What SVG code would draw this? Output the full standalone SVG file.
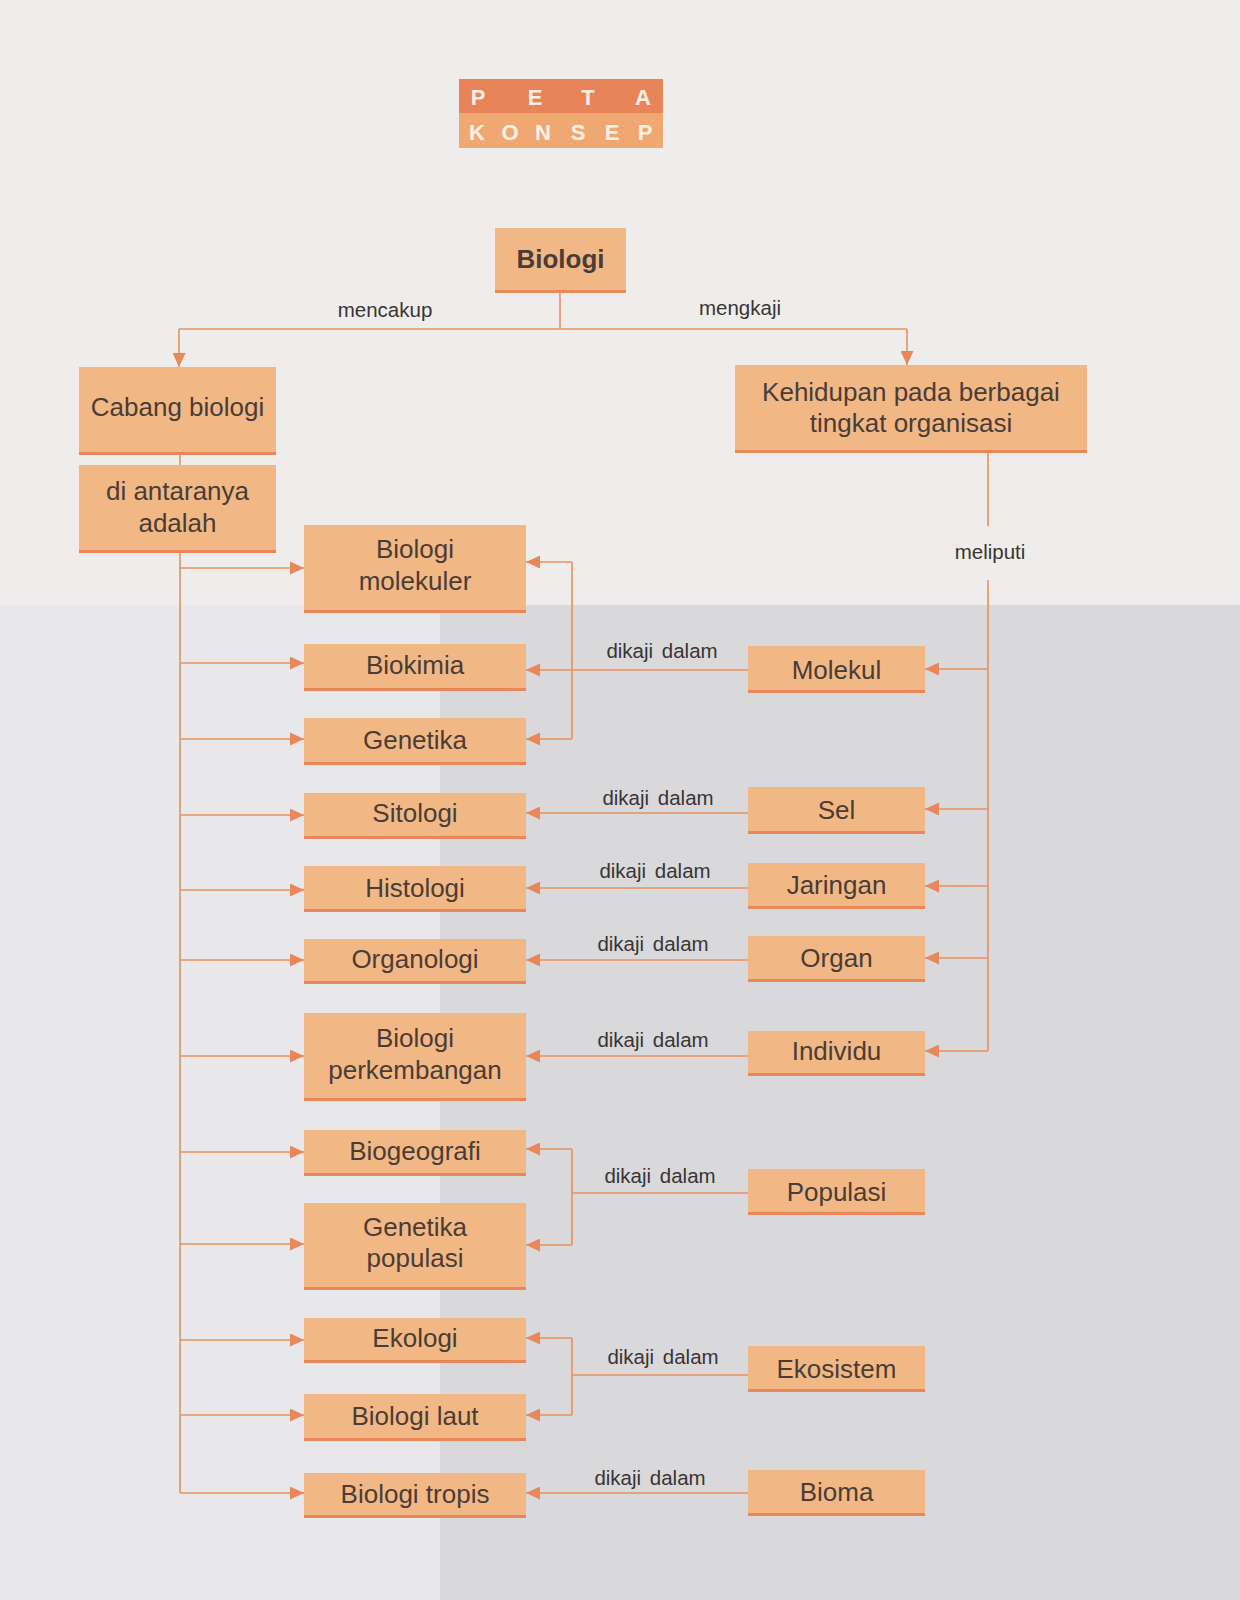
<svg xmlns="http://www.w3.org/2000/svg" width="1240" height="1600" viewBox="0 0 1240 1600">
<defs>
<style>
.box{fill:#f1b886}
.edge{fill:#e8875a}
.t{font-family:"Liberation Sans",Arial,sans-serif;font-size:26px;fill:#4a3c36;text-anchor:middle}
.b{font-weight:bold}
.lbl{font-family:"Liberation Sans",Arial,sans-serif;font-size:20.5px;fill:#3a3434;text-anchor:middle;word-spacing:3px}
.c{fill:none;stroke:#e8915e;stroke-width:1.6}
.pk{font-family:"Liberation Sans",Arial,sans-serif;font-size:22px;font-weight:bold;fill:#fdf0e6;text-anchor:middle}
</style>
<marker id="ah" viewBox="0 0 14 13" refX="14" refY="6.5" markerWidth="14" markerHeight="13" markerUnits="userSpaceOnUse" orient="auto">
<path d="M0,0 L14,6.5 L0,13 z" fill="#e8875a"/>
</marker>
</defs>
<rect x="0" y="0" width="1240" height="1600" fill="#efedeb"/>
<rect x="0" y="605" width="440" height="995" fill="#e8e7e9"/>
<rect x="440" y="605" width="800" height="995" fill="#d9d9dc"/>

<g id="peta-konsep">
<rect x="459" y="79" width="204" height="34" fill="#e8845a"/>
<rect x="459" y="113" width="204" height="35" fill="#f0a872"/>
<text class="pk" x="478" y="105">P</text><text class="pk" x="535" y="105">E</text><text class="pk" x="588" y="105">T</text><text class="pk" x="643" y="105">A</text>
<text class="pk" x="477" y="140">K</text><text class="pk" x="510" y="140">O</text><text class="pk" x="543" y="140">N</text><text class="pk" x="578" y="140">S</text><text class="pk" x="612" y="140">E</text><text class="pk" x="645" y="140">P</text>
</g>

<g id="connectors">
<path class="c" d="M560 293 V329 M179 329 H907"/>
<path class="c" d="M179 329 V367" marker-end="url(#ah)"/>
<path class="c" d="M907 329 V365" marker-end="url(#ah)"/>
<path class="c" d="M180 455 V465 M180 553 V1493"/>
<path class="c" d="M180 568 H304" marker-end="url(#ah)"/>
<path class="c" d="M180 663 H304" marker-end="url(#ah)"/>
<path class="c" d="M180 739 H304" marker-end="url(#ah)"/>
<path class="c" d="M180 815 H304" marker-end="url(#ah)"/>
<path class="c" d="M180 890 H304" marker-end="url(#ah)"/>
<path class="c" d="M180 960 H304" marker-end="url(#ah)"/>
<path class="c" d="M180 1056 H304" marker-end="url(#ah)"/>
<path class="c" d="M180 1152 H304" marker-end="url(#ah)"/>
<path class="c" d="M180 1244 H304" marker-end="url(#ah)"/>
<path class="c" d="M180 1340 H304" marker-end="url(#ah)"/>
<path class="c" d="M180 1415 H304" marker-end="url(#ah)"/>
<path class="c" d="M180 1493 H304" marker-end="url(#ah)"/>
<path class="c" d="M988 453 V526 M988 580 V1051"/>
<path class="c" d="M988 669 H925" marker-end="url(#ah)"/>
<path class="c" d="M988 809 H925" marker-end="url(#ah)"/>
<path class="c" d="M988 886 H925" marker-end="url(#ah)"/>
<path class="c" d="M988 958 H925" marker-end="url(#ah)"/>
<path class="c" d="M988 1051 H925" marker-end="url(#ah)"/>
<path class="c" d="M748 670 H526" marker-end="url(#ah)"/>
<path class="c" d="M572 562 V739"/>
<path class="c" d="M572 562 H526" marker-end="url(#ah)"/>
<path class="c" d="M572 739 H526" marker-end="url(#ah)"/>
<path class="c" d="M748 813 H526" marker-end="url(#ah)"/>
<path class="c" d="M748 888 H526" marker-end="url(#ah)"/>
<path class="c" d="M748 960 H526" marker-end="url(#ah)"/>
<path class="c" d="M748 1056 H526" marker-end="url(#ah)"/>
<path class="c" d="M748 1193 H572 M572 1149 V1245"/>
<path class="c" d="M572 1149 H526" marker-end="url(#ah)"/>
<path class="c" d="M572 1245 H526" marker-end="url(#ah)"/>
<path class="c" d="M748 1375 H572 M572 1338 V1415"/>
<path class="c" d="M572 1338 H526" marker-end="url(#ah)"/>
<path class="c" d="M572 1415 H526" marker-end="url(#ah)"/>
<path class="c" d="M748 1493 H526" marker-end="url(#ah)"/>
<text class="lbl" x="385" y="317">mencakup</text>
<text class="lbl" x="740" y="315">mengkaji</text>
<text class="lbl" x="990" y="559">meliputi</text>
<text class="lbl" x="662" y="658">dikaji dalam</text>
<text class="lbl" x="658" y="805">dikaji dalam</text>
<text class="lbl" x="655" y="878">dikaji dalam</text>
<text class="lbl" x="653" y="951">dikaji dalam</text>
<text class="lbl" x="653" y="1047">dikaji dalam</text>
<text class="lbl" x="660" y="1183">dikaji dalam</text>
<text class="lbl" x="663" y="1364">dikaji dalam</text>
<text class="lbl" x="650" y="1485">dikaji dalam</text>
</g>

<g id="biologi"><rect class="box" x="495" y="228" width="131" height="65"/><rect class="edge" x="495" y="290" width="131" height="3"/><text class="t b" x="560.5" y="268">Biologi</text></g>
<g id="cabang-biologi"><rect class="box" x="79" y="367" width="197" height="88"/><rect class="edge" x="79" y="452" width="197" height="3"/><text class="t" x="177.5" y="416">Cabang biologi</text></g>
<g id="di-antaranya"><rect class="box" x="79" y="465" width="197" height="88"/><rect class="edge" x="79" y="550" width="197" height="3"/><text class="t" x="177.5" y="500">di antaranya</text><text class="t" x="177.5" y="532">adalah</text></g>
<g id="kehidupan"><rect class="box" x="735" y="365" width="352" height="88"/><rect class="edge" x="735" y="450" width="352" height="3"/><text class="t" x="911" y="401">Kehidupan pada berbagai</text><text class="t" x="911" y="432">tingkat organisasi</text></g>

<g id="biologi-molekuler"><rect class="box" x="304" y="525" width="222" height="88"/><rect class="edge" x="304" y="610" width="222" height="3"/><text class="t" x="415" y="558">Biologi</text><text class="t" x="415" y="590">molekuler</text></g>
<g id="biokimia"><rect class="box" x="304" y="644" width="222" height="47"/><rect class="edge" x="304" y="688" width="222" height="3"/><text class="t" x="415" y="674">Biokimia</text></g>
<g id="genetika"><rect class="box" x="304" y="718" width="222" height="47"/><rect class="edge" x="304" y="762" width="222" height="3"/><text class="t" x="415" y="749">Genetika</text></g>
<g id="sitologi"><rect class="box" x="304" y="793" width="222" height="46"/><rect class="edge" x="304" y="836" width="222" height="3"/><text class="t" x="415" y="822">Sitologi</text></g>
<g id="histologi"><rect class="box" x="304" y="866" width="222" height="46"/><rect class="edge" x="304" y="909" width="222" height="3"/><text class="t" x="415" y="897">Histologi</text></g>
<g id="organologi"><rect class="box" x="304" y="939" width="222" height="45"/><rect class="edge" x="304" y="981" width="222" height="3"/><text class="t" x="415" y="968">Organologi</text></g>
<g id="biologi-perkembangan"><rect class="box" x="304" y="1013" width="222" height="88"/><rect class="edge" x="304" y="1098" width="222" height="3"/><text class="t" x="415" y="1047">Biologi</text><text class="t" x="415" y="1079">perkembangan</text></g>
<g id="biogeografi"><rect class="box" x="304" y="1130" width="222" height="46"/><rect class="edge" x="304" y="1173" width="222" height="3"/><text class="t" x="415" y="1160">Biogeografi</text></g>
<g id="genetika-populasi"><rect class="box" x="304" y="1203" width="222" height="87"/><rect class="edge" x="304" y="1287" width="222" height="3"/><text class="t" x="415" y="1236">Genetika</text><text class="t" x="415" y="1267">populasi</text></g>
<g id="ekologi"><rect class="box" x="304" y="1318" width="222" height="45"/><rect class="edge" x="304" y="1360" width="222" height="3"/><text class="t" x="415" y="1347">Ekologi</text></g>
<g id="biologi-laut"><rect class="box" x="304" y="1394" width="222" height="47"/><rect class="edge" x="304" y="1438" width="222" height="3"/><text class="t" x="415" y="1425">Biologi laut</text></g>
<g id="biologi-tropis"><rect class="box" x="304" y="1473" width="222" height="45"/><rect class="edge" x="304" y="1515" width="222" height="3"/><text class="t" x="415" y="1503">Biologi tropis</text></g>

<g id="molekul"><rect class="box" x="748" y="646" width="177" height="47"/><rect class="edge" x="748" y="690" width="177" height="3"/><text class="t" x="836.5" y="679">Molekul</text></g>
<g id="sel"><rect class="box" x="748" y="787" width="177" height="47"/><rect class="edge" x="748" y="831" width="177" height="3"/><text class="t" x="836.5" y="819">Sel</text></g>
<g id="jaringan"><rect class="box" x="748" y="863" width="177" height="46"/><rect class="edge" x="748" y="906" width="177" height="3"/><text class="t" x="836.5" y="894">Jaringan</text></g>
<g id="organ"><rect class="box" x="748" y="936" width="177" height="46"/><rect class="edge" x="748" y="979" width="177" height="3"/><text class="t" x="836.5" y="967">Organ</text></g>
<g id="individu"><rect class="box" x="748" y="1031" width="177" height="45"/><rect class="edge" x="748" y="1073" width="177" height="3"/><text class="t" x="836.5" y="1060">Individu</text></g>
<g id="populasi"><rect class="box" x="748" y="1169" width="177" height="46"/><rect class="edge" x="748" y="1212" width="177" height="3"/><text class="t" x="836.5" y="1201">Populasi</text></g>
<g id="ekosistem"><rect class="box" x="748" y="1346" width="177" height="46"/><rect class="edge" x="748" y="1389" width="177" height="3"/><text class="t" x="836.5" y="1378">Ekosistem</text></g>
<g id="bioma"><rect class="box" x="748" y="1470" width="177" height="46"/><rect class="edge" x="748" y="1513" width="177" height="3"/><text class="t" x="836.5" y="1501">Bioma</text></g>
</svg>
